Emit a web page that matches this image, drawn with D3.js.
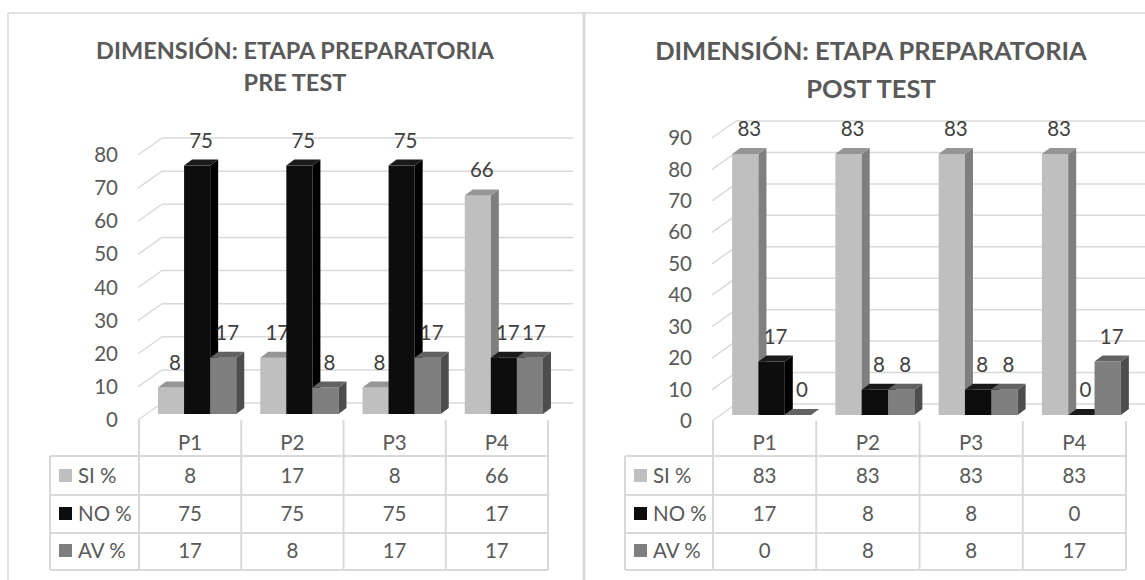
<!DOCTYPE html>
<html>
<head>
<meta charset="utf-8">
<script src="https://cdn.jsdelivr.net/npm/d3@7"></script>
<style>
  body { margin: 0; background: #fff; }
  text { font-family: Lato, "Open Sans", sans-serif; }
</style>
</head>
<body>
<svg id="chart" width="1145" height="580"></svg>
<script>
// data
const categories = ['P1', 'P2', 'P3', 'P4'];
const seriesNames = ['SI %', 'NO %', 'AV %'];

const preSi = [8, 17, 8, 66];
const preNo = [75, 75, 75, 17];
const preAv = [17, 8, 17, 17];

const postSi = [83, 83, 83, 83];
const postNo = [17, 8, 8, 0];
const postAv = [0, 8, 8, 17];

const preTicks = [0, 10, 20, 30, 40, 50, 60, 70, 80];
const postTicks = [0, 10, 20, 30, 40, 50, 60, 70, 80, 90];

const preTitle = ['DIMENSIÓN: ETAPA PREPARATORIA', 'PRE TEST'];
const postTitle = ['DIMENSIÓN: ETAPA PREPARATORIA', 'POST TEST'];

// face colours: front, side, top
const faces = [
    ['#bfbfbf', '#7f7f7f', '#959595'],
    ['#0d0d0d', '#000000', '#1a1a1a'],
    ['#7f7f7f', '#4d4d4d', '#626262']
];
const gridColor = '#d9d9d9';
const textColor = '#595959';
const fs = 20.5;

let svg = d3.select('#chart');

// outer frame
svg.append('line').attr('x1', 8).attr('x2', 1145).attr('y1', 13).attr('y2', 13)
   .attr('stroke', gridColor).attr('stroke-width', 1.5);
svg.append('line').attr('x1', 8).attr('x2', 8).attr('y1', 13).attr('y2', 580)
   .attr('stroke', gridColor).attr('stroke-width', 1.5);
svg.append('line').attr('x1', 584).attr('x2', 584).attr('y1', 13).attr('y2', 580)
   .attr('stroke', gridColor).attr('stroke-width', 3);

function drawPanel(cfg) {

    let g = svg.append('g');

    // title
    g.selectAll('text.title')
     .data(cfg.title)
     .enter()
     .append('text')
     .attr('class', 'title')
     .attr('x', cfg.titleX)
     .attr('y', (d, i) => cfg.titleY[i])
     .attr('text-anchor', 'middle')
     .attr('font-weight', 'bold')
     .attr('font-size', cfg.titleSize)
     .attr('fill', textColor)
     .text(d => d);

    let x = d3.scaleBand().domain(categories).range([cfg.x0, cfg.x1]);
    let y = d3.scaleLinear().domain([0, cfg.ticks[cfg.ticks.length - 1]]).range([cfg.yZero, cfg.yTop]);

    let wallDx = 24, wallDy = -17;

    // back wall gridlines + left floor diagonals
    cfg.ticks.forEach(function (t) {
        g.append('line')
         .attr('x1', cfg.x0 - 1).attr('y1', y(t))
         .attr('x2', cfg.x0 - 1 + wallDx).attr('y2', y(t) + wallDy)
         .attr('stroke', gridColor).attr('stroke-width', 1.5);
        g.append('line')
         .attr('x1', cfg.x0 - 1 + wallDx).attr('y1', y(t) + wallDy)
         .attr('x2', cfg.wallRight).attr('y2', y(t) + wallDy)
         .attr('stroke', gridColor).attr('stroke-width', 1.5);
    });

    // value axis labels
    let axis = d3.axisLeft(y).tickValues(cfg.ticks).tickSize(0).tickPadding(0);
    let ag = g.append('g')
              .attr('transform', 'translate(' + (cfg.x0 - 21) + ',0)')
              .call(axis);
    ag.select('.domain').remove();
    ag.selectAll('text')
      .attr('font-size', fs)
      .attr('fill', textColor)
      .style('font-family', 'Lato, sans-serif');

    // 3D bars
    let series = [cfg.si, cfg.no, cfg.av];
    let bw = x.bandwidth() * 0.255;
    let baseY = cfg.yZero - 6;
    let dx = 8, dy = -6;

    categories.forEach(function (cat, i) {
        let left = x(cat) + x.bandwidth() / 2 + 7 - 1.5 * bw;
        series.forEach(function (vals, j) {
            let v = vals[i];
            let fx = left + j * bw;
            let top = baseY - (cfg.yZero - y(v));
            let col = faces[j];
            if (v > 0) {
                g.append('rect')
                 .attr('x', fx).attr('y', top)
                 .attr('width', bw).attr('height', baseY - top)
                 .attr('fill', col[0]);
                g.append('polygon')
                 .attr('points', [[fx + bw, top], [fx + bw + dx, top + dy], [fx + bw + dx, baseY + dy], [fx + bw, baseY]].join(' '))
                 .attr('fill', col[1]);
            }
            g.append('polygon')
             .attr('points', [[fx, top], [fx + dx, top + dy], [fx + bw + dx, top + dy], [fx + bw, top]].join(' '))
             .attr('fill', col[2]);

            g.append('text')
             .attr('x', fx + bw / 2 + 4)
             .attr('y', top - 18)
             .attr('text-anchor', 'middle')
             .attr('font-size', fs)
             .attr('fill', '#404040')
             .text(v);
        });
    });

    // data table
    let rowLines = [456, 495, 533, 570];
    let tableTop = cfg.yZero;

    rowLines.forEach(function (ry) {
        g.append('line')
         .attr('x1', cfg.labelX0).attr('x2', cfg.x1)
         .attr('y1', ry).attr('y2', ry)
         .attr('stroke', gridColor).attr('stroke-width', 2);
    });
    g.append('line')
     .attr('x1', cfg.labelX0).attr('x2', cfg.labelX0)
     .attr('y1', rowLines[0]).attr('y2', rowLines[3])
     .attr('stroke', gridColor).attr('stroke-width', 2);

    let bounds = categories.map(c => x(c)).concat([cfg.x1]);
    bounds.forEach(function (bx) {
        g.append('line')
         .attr('x1', bx).attr('x2', bx)
         .attr('y1', tableTop).attr('y2', rowLines[3])
         .attr('stroke', gridColor).attr('stroke-width', 2);
    });

    // header row
    g.selectAll('text.cat')
     .data(categories)
     .enter()
     .append('text')
     .attr('class', 'cat')
     .attr('x', d => x(d) + x.bandwidth() / 2)
     .attr('y', rowLines[0] - 6)
     .attr('text-anchor', 'middle')
     .attr('font-size', fs)
     .attr('fill', textColor)
     .text(d => d);

    // value rows
    series.forEach(function (vals, j) {
        let baseline = rowLines[j + 1] - 12;

        g.append('rect')
         .attr('x', cfg.labelX0 + 9).attr('y', baseline - 14)
         .attr('width', 13).attr('height', 13)
         .attr('fill', faces[j][0]);

        g.append('text')
         .attr('x', cfg.labelX0 + 28)
         .attr('y', baseline)
         .attr('font-size', fs)
         .attr('fill', textColor)
         .text(seriesNames[j]);

        categories.forEach(function (cat, i) {
            g.append('text')
             .attr('x', x(cat) + x.bandwidth() / 2)
             .attr('y', baseline)
             .attr('text-anchor', 'middle')
             .attr('font-size', fs)
             .attr('fill', textColor)
             .text(vals[i]);
        });
    });
}

drawPanel({
    title: preTitle, titleX: 295, titleY: [59, 91], titleSize: 23.5,
    ticks: preTicks, yZero: 420, yTop: 155,
    x0: 139, x1: 548, labelX0: 50, wallRight: 573,
    si: preSi, no: preNo, av: preAv
});

drawPanel({
    title: postTitle, titleX: 871, titleY: [60, 98], titleSize: 25.5,
    ticks: postTicks, yZero: 421, yTop: 138,
    x0: 713, x1: 1126, labelX0: 625, wallRight: 1145,
    si: postSi, no: postNo, av: postAv
});
</script>
</body>
</html>
